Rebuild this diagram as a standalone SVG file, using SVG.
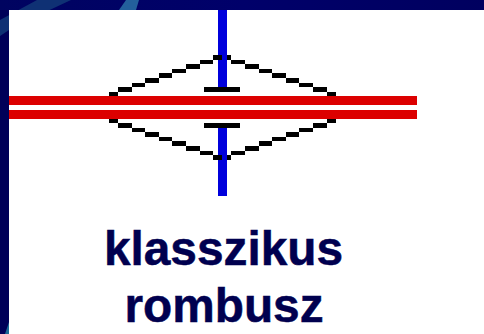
<svg xmlns="http://www.w3.org/2000/svg" width="484" height="334" viewBox="0 0 484 334">
<style>
.t{font-family:"Liberation Sans",Arial,sans-serif;font-weight:bold;font-size:47.8px;fill:#00004f;stroke:#00004f;stroke-width:.5px;text-anchor:middle}
.k{fill:#000}
</style>
<defs>
<linearGradient id="bgr" x1="0" y1="0" x2="1" y2="0"><stop offset="0" stop-color="#000460"/><stop offset="0.5" stop-color="#00006a"/><stop offset="1" stop-color="#00005f"/></linearGradient>
</defs>
<g id="background">
<rect width="484" height="334" fill="url(#bgr)"/>
<rect x="0" y="10" width="9" height="324" fill="#000058"/>
<polygon points="0,20 37,0 71,0 9,29 9,30 0,36" fill="#0f3174"/>
<polygon points="126,0 139,0 136,10 119,10" fill="#23609c"/>
<polygon points="9,322 9,334 5,334" fill="#1c6a96"/>
<rect x="9" y="10" width="475" height="324" fill="#fff"/>
</g>
<g id="connectors" fill="#0000dc">
<rect id="blue-line-top" x="218" y="10" width="9" height="77"/>
<rect id="blue-line-bottom" x="218" y="128" width="9" height="68"/>
</g>
<g id="rhombus" class="k">
<rect x="109" y="92" width="9" height="4"/><rect x="118" y="87" width="14" height="5"/><rect x="132" y="83" width="13" height="4"/><rect x="145" y="78" width="14" height="5"/><rect x="159" y="73" width="13" height="5"/><rect x="172" y="69" width="14" height="4"/><rect x="186" y="64" width="14" height="5"/><rect x="200" y="60" width="13" height="4"/><rect x="213" y="55" width="9" height="5"/>
<rect x="227" y="55" width="4" height="5"/><rect x="231" y="60" width="14" height="4"/><rect x="245" y="64" width="14" height="5"/><rect x="259" y="69" width="13" height="4"/><rect x="272" y="73" width="14" height="5"/><rect x="286" y="78" width="13" height="5"/><rect x="299" y="83" width="14" height="4"/><rect x="313" y="87" width="14" height="5"/><rect x="327" y="92" width="9" height="4"/>
<rect x="109" y="119" width="9" height="4"/><rect x="118" y="123" width="14" height="5"/><rect x="132" y="128" width="13" height="4"/><rect x="145" y="132" width="14" height="5"/><rect x="159" y="137" width="13" height="4"/><rect x="172" y="141" width="14" height="5"/><rect x="186" y="146" width="14" height="5"/><rect x="200" y="151" width="13" height="4"/><rect x="213" y="155" width="9" height="5"/>
<rect x="227" y="155" width="4" height="5"/><rect x="231" y="151" width="14" height="4"/><rect x="245" y="146" width="14" height="5"/><rect x="259" y="141" width="13" height="5"/><rect x="272" y="137" width="14" height="4"/><rect x="286" y="132" width="13" height="5"/><rect x="299" y="128" width="14" height="4"/><rect x="313" y="123" width="14" height="5"/><rect x="327" y="119" width="9" height="4"/>
</g>
<g id="capacitor-plates" class="k">
<rect x="204" y="87" width="36" height="5"/>
<rect x="204" y="123" width="36" height="5"/>
</g>
<g id="red-lines" fill="#dc0000">
<rect x="9" y="96" width="408" height="9"/>
<rect x="9" y="110" width="408" height="9"/>
</g>
<g id="label">
<text class="t" x="223.500" y="265">klasszikus</text>
<text class="t" x="224" y="322">rombusz</text>
</g>
</svg>
